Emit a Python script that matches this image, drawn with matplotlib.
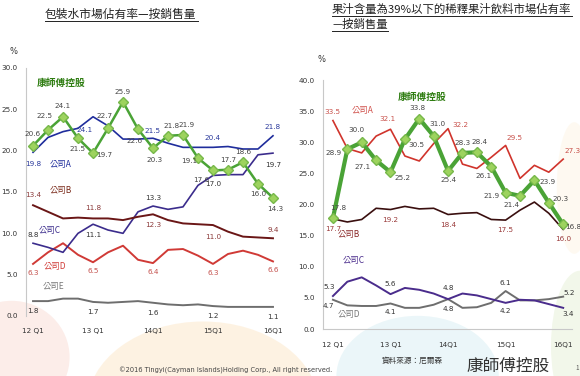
import matplotlib.pyplot as plt
from matplotlib.patches import Ellipse
from matplotlib.lines import Line2D

plt.rcParams['font.family'] = ['Noto Sans CJK TC', 'DejaVu Sans']

# 17 quarters, 12Q1 .. 16Q1
quarters = ['12 Q1', '12 Q2', '12 Q3', '12 Q4', '13 Q1', '13 Q2', '13 Q3', '13 Q4',
            '14Q1', '14Q2', '14Q3', '14Q4', '15Q1', '15Q2', '15Q3', '15Q4', '16Q1']
tick_idx = [0, 4, 8, 12, 16]

# packaged water share (%)
water_kang = [20.6, 22.5, 24.1, 21.5, 19.7, 22.7, 25.9, 22.6, 20.3, 21.8, 21.9, 19.1, 17.6, 17.7, 18.6, 16.0, 14.3]
water_a = [19.8, 21.6, 22.3, 22.7, 24.1, 23.0, 21.4, 21.4, 21.5, 20.9, 20.4, 20.4, 20.4, 20.5, 20.2, 20.2, 21.8]
water_b = [13.4, 12.6, 11.8, 11.9, 11.8, 11.8, 11.6, 12.0, 12.3, 11.6, 11.2, 11.1, 11.0, 10.2, 9.6, 9.5, 9.4]
water_c = [8.8, 8.3, 7.7, 10.0, 11.1, 10.4, 10.0, 12.6, 13.3, 12.9, 13.2, 15.8, 17.0, 17.1, 17.1, 19.5, 19.7]
water_d = [6.3, 7.7, 8.8, 7.4, 6.5, 7.7, 8.5, 6.8, 6.4, 8.0, 8.1, 7.3, 6.3, 7.5, 7.9, 7.4, 6.6]
water_e = [1.8, 1.8, 2.1, 2.1, 1.7, 1.6, 1.7, 1.8, 1.6, 1.4, 1.3, 1.4, 1.2, 1.1, 1.1, 1.1, 1.1]

# diluted juice drinks share (%)
juice_kang = [17.8, 28.9, 30.0, 27.1, 25.2, 30.5, 33.8, 31.0, 25.4, 28.3, 28.4, 26.1, 21.9, 21.4, 23.9, 20.3, 16.8]
juice_a = [33.5, 29.0, 28.3, 31.0, 32.1, 27.8, 27.0, 29.8, 32.2, 26.5, 25.8, 27.6, 29.5, 24.2, 26.3, 25.2, 27.3]
juice_b = [17.7, 17.2, 17.6, 19.4, 19.2, 19.7, 19.3, 19.4, 18.4, 18.6, 18.7, 17.6, 17.5, 19.1, 20.4, 18.6, 16.0]
juice_c = [5.3, 7.6, 8.3, 7.0, 5.6, 6.6, 6.3, 5.7, 4.8, 5.7, 5.4, 4.8, 4.2, 4.7, 4.6, 4.0, 3.4]
juice_d = [4.7, 3.8, 3.7, 3.7, 4.1, 3.4, 3.4, 3.9, 4.8, 3.4, 3.5, 4.2, 6.1, 4.6, 4.6, 4.8, 5.2]

GREEN = '#4aa336'
GREEN_FACE = '#9dd35e'
GREEN_TXT = '#2f7d12'

fig = plt.figure(figsize=(5.8, 3.76), dpi=100)
fig.set_facecolor('white')

# soft background blobs of the slide
for (cx, cy, w, h, c, a) in [(0.02, 0.05, 0.20, 0.30, '#f6c4b8', 0.30),
                             (0.35, -0.08, 0.40, 0.45, '#fcdcae', 0.35),
                             (0.72, 0.00, 0.28, 0.32, '#cdeaf0', 0.40),
                             (1.00, 0.08, 0.10, 0.40, '#dfeccb', 0.40),
                             (0.99, 0.50, 0.06, 0.35, '#fdf2dc', 0.40)]:
    fig.patches.append(Ellipse((cx, cy), w, h, transform=fig.transFigure,
                               facecolor=c, edgecolor='none', alpha=a, zorder=0))

x = list(range(len(quarters)))


def label(ax, i, y, dx, dy, color):
    ax.annotate(f'{y:.1f}', (i, y), xytext=(dx, dy), textcoords='offset pixels',
                ha='center', va='center', fontsize=5.2, color=color,
                family='DejaVu Sans', zorder=6)


def style_axes(ax, ymax, step, bottom_spine):
    ax.set_facecolor('none')
    ax.set_zorder(2)
    ax.set_ylim(0, ymax)
    ax.set_yticks([v for v in range(0, ymax + 1, step)])
    ax.set_yticklabels([f'{v:.1f}' for v in range(0, ymax + 1, step)])
    ax.set_xticks(tick_idx)
    ax.set_xticklabels([quarters[i] for i in tick_idx])
    ax.tick_params(length=0, labelsize=5.2, colors='#333333')
    ax.tick_params(axis='y', pad=6)
    ax.tick_params(axis='x', pad=9)
    for t in ax.get_xticklabels() + ax.get_yticklabels():
        t.set_family('DejaVu Sans')
    for s in ['top', 'right']:
        ax.spines[s].set_visible(False)
    ax.spines['left'].set_color('#c8c8c8')
    ax.spines['bottom'].set_color('#c8c8c8')
    ax.spines['bottom'].set_visible(bottom_spine)


# ---------------- left: packaged water ----------------
ax1 = fig.add_axes([0.0448, 0.1596, 0.438, 0.6596])
ax1.set_xlim(-0.47, 16.47)
style_axes(ax1, 30, 5, False)

ax1.plot(x, water_e, color='#6e6e6e', lw=1.4)
ax1.plot(x, water_d, color='#d03a36', lw=1.4)
ax1.plot(x, water_c, color='#3b2c8c', lw=1.2)
ax1.plot(x, water_b, color='#6a1616', lw=1.4)
ax1.plot(x, water_a, color='#1f2d9c', lw=1.2)
ax1.plot(x, water_kang, color=GREEN, lw=1.8, marker='D', markersize=5.5,
         markerfacecolor=GREEN_FACE, markeredgecolor='#77b84a', zorder=5)

kang_off = [(0, 12), (-3, 14), (0, 11), (0, -11), (11, -2), (-3, 12), (0, 10), (-3, -12),
            (2, -12), (4, 10), (4, 10), (-9, -3), (-12, -10), (0, 10), (0, 10), (0, -10), (2, -11)]
for i, (dx, dy) in enumerate(kang_off):
    label(ax1, i, water_kang[i], dx, dy, '#444444')
for i, (dx, dy) in zip(tick_idx, [(0, -12), (-8, -13), (0, 7), (0, 9), (0, 9)]):
    label(ax1, i, water_a[i], dx, dy, '#2b3a9c')
for i, (dx, dy) in zip(tick_idx, [(0, 10), (0, 10), (0, -11), (0, -12), (0, 8)]):
    label(ax1, i, water_b[i], dx, dy, '#8b3a3a')
for i, (dx, dy) in zip(tick_idx, [(0, 8), (0, -11), (0, 8), (0, -9), (0, -12)]):
    label(ax1, i, water_c[i], dx, dy, '#333333')
for i in tick_idx:
    label(ax1, i, water_d[i], 0, -9, '#c4504c')
    label(ax1, i, water_e[i], 0, -10, '#333333')

fig.text(37/580, 1 - 83/376, '康師傅控股', color=GREEN_TXT, fontsize=7, fontweight='bold', va='center')
for txt, px, py, c in [('公司A', 50, 165, '#1f2d9c'), ('公司B', 50, 190, '#7a2a1a'),
                       ('公司C', 39, 230, '#3b2c8c'), ('公司D', 44, 267, '#d03a36'),
                       ('公司E', 43, 286, '#777777')]:
    fig.text(px/580, 1 - py/376, txt, color=c, fontsize=6, va='center')
fig.text(14/580, 1 - 52/376, '%', fontsize=6, color='#333333', ha='center', va='center', family='DejaVu Sans')

# ---------------- right: diluted juice ----------------
ax2 = fig.add_axes([0.5569, 0.125, 0.429, 0.662])
ax2.set_xlim(-0.69, 16.6)
style_axes(ax2, 40, 5, True)

ax2.plot(x, juice_d, color='#6e6e6e', lw=1.4)
ax2.plot(x, juice_c, color='#4a2c8c', lw=1.4)
ax2.plot(x, juice_b, color='#3a0f0f', lw=1.2)
ax2.plot(x, juice_a, color='#d0342c', lw=1.2)
ax2.plot(x, juice_kang, color=GREEN, lw=3.0, marker='D', markersize=5.5,
         markerfacecolor=GREEN_FACE, markeredgecolor='#77b84a', zorder=5)

kang2_off = [(5, 10), (-14, -4), (-5, 12), (-14, -7), (12, -6), (12, -6), (-2, 11), (4, 12),
             (0, -9), (0, 10), (3, 10), (-8, -9), (-14, -3), (-8, -9), (13, -2), (12, 4), (10, -3)]
for i, (dx, dy) in enumerate(kang2_off):
    label(ax2, i, juice_kang[i], dx, dy, '#444444')
for i, (dx, dy) in zip(tick_idx, [(0, 9), (-3, 10), (12, 4), (9, 7), (9, 8)]):
    label(ax2, i, juice_a[i], dx, dy, '#c8504a')
for i in tick_idx:
    label(ax2, i, juice_b[i], 0, -10, '#9a3a3a')
for i, (dx, dy) in zip(tick_idx, [(-4, 9), (0, 10), (0, 11), (0, -8), (5, -6)]):
    label(ax2, i, juice_c[i], dx, dy, '#333333')
for i, (dx, dy) in zip(tick_idx, [(-5, -6), (0, -9), (0, -10), (0, 8), (6, 4)]):
    label(ax2, i, juice_d[i], dx, dy, '#333333')

fig.text(398/580, 1 - 97/376, '康師傅控股', color=GREEN_TXT, fontsize=7, fontweight='bold', va='center')
for txt, px, py, c in [('公司A', 352, 111, '#d0504a'), ('公司B', 338, 235, '#8b2a2a'),
                       ('公司C', 343, 260, '#4a2c8c'), ('公司D', 338, 314, '#777777')]:
    fig.text(px/580, 1 - py/376, txt, color=c, fontsize=6, va='center')
fig.text(322/580, 1 - 60/376, '%', fontsize=6, color='#333333', ha='center', va='center', family='DejaVu Sans')

# ---------------- titles ----------------
fig.text(45/580, 1 - 14/376, '包裝水市場佔有率—按銷售量', fontsize=8.5, color='#222222', va='center')
fig.text(332/580, 1 - 9/376, '果汁含量為39%以下的稀釋果汁飲料市場佔有率', fontsize=8.2, color='#222222', va='center')
fig.text(332/580, 1 - 24/376, '—按銷售量', fontsize=8.2, color='#222222', va='center')
for x0, x1, yy in [(45, 198, 21), (332, 572, 16), (332, 388, 31)]:
    fig.add_artist(Line2D([x0/580, x1/580], [1 - yy/376, 1 - yy/376], color='#222222', lw=0.7))

# ---------------- footer ----------------
fig.text(226/580, 1 - 370/376, '©2016 Tingyi(Cayman Islands)Holding Corp., All right reserved.',
         fontsize=4.8, color='#444444', ha='center', va='center', family='DejaVu Sans')
fig.text(412/580, 1 - 361/376, '資料來源：尼爾森', fontsize=5.5, color='#333333', ha='center', va='center')
fig.text(508/580, 1 - 366/376, '康師傅控股', fontsize=12, color='#333333', ha='center', va='center')
fig.text(577/580, 1 - 368/376, '1', fontsize=4.5, color='#555555', ha='center', va='center')

plt.savefig('out.png', dpi=100, facecolor='white')
